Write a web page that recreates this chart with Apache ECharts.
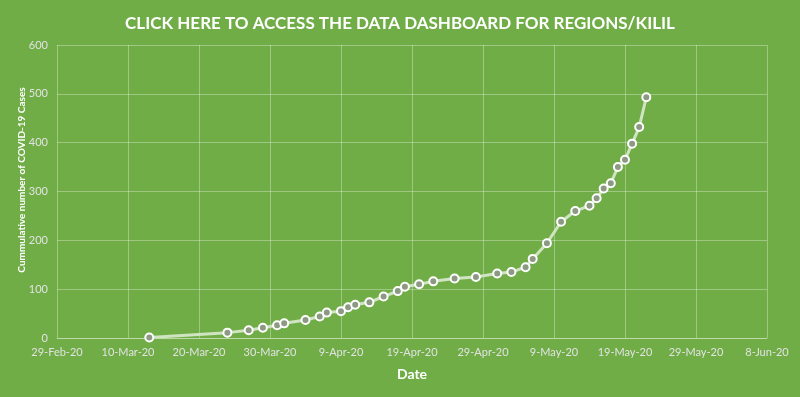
<!DOCTYPE html>
<html>
<head>
<meta charset="utf-8">
<script src="https://cdn.jsdelivr.net/npm/echarts@6/dist/echarts.min.js"></script>
<style>
html,body{margin:0;padding:0;background:#70AD47;}
#chart{width:800px;height:397px;}
</style>
</head>
<body>
<div id="chart"></div>
<script>
// Data
var dates = ['2020-03-13','2020-03-24','2020-03-27','2020-03-29','2020-03-31','2020-04-01','2020-04-04','2020-04-06','2020-04-07','2020-04-09','2020-04-10','2020-04-11','2020-04-13','2020-04-15','2020-04-17','2020-04-18','2020-04-20','2020-04-22','2020-04-25','2020-04-28','2020-05-01','2020-05-03','2020-05-05','2020-05-06','2020-05-08','2020-05-10','2020-05-12','2020-05-14','2020-05-15','2020-05-16','2020-05-17','2020-05-18','2020-05-19','2020-05-20','2020-05-21','2020-05-22'];
var cases = [1,11,16,21,26,30,37,44,52,55,63,68,73,85,96,105,110,116,122,125,132,135,145,162,194,238,260,271,286,306,317,350,365,398,432,493];
var xStart = '2020-02-29';
var xEnd = '2020-06-08';
var xTickDays = 10;
var yTicks = [0,100,200,300,400,500,600];
var months = ['Jan','Feb','Mar','Apr','May','Jun','Jul','Aug','Sep','Oct','Nov','Dec'];

var DAY = 86400000;
function toMs(s){ var p = s.split('-'); return Date.UTC(+p[0], +p[1]-1, +p[2]); }
var t0 = toMs(xStart);
function dayIdx(s){ return Math.round((toMs(s) - t0) / DAY); }
function fmtDay(d){
  var dt = new Date(t0 + d * DAY);
  return dt.getUTCDate() + '-' + months[dt.getUTCMonth()] + '-' + String(dt.getUTCFullYear()).slice(2);
}
var seriesData = dates.map(function(d, i){ return [dayIdx(d), cases[i]]; });

var chart = echarts.init(document.getElementById('chart'));
var gridColor = 'rgba(255,255,255,0.32)';
var labelColor = '#e2e2e2';
var font = 'Lato, "Open Sans", sans-serif';
chart.setOption({
  backgroundColor: '#70AD47',
  animation: false,
  title: {
    text: 'CLICK HERE TO ACCESS THE DATA DASHBOARD FOR REGIONS/KILIL',
    left: 'center',
    top: 10,
    textStyle: { color: '#ffffff', fontSize: 17, fontWeight: 'bold', fontFamily: font }
  },
  graphic: [{
    type: 'text',
    rotation: Math.PI / 2,
    x: 22, y: 180,
    style: {
      text: 'Cummulative number of COVID-19 Cases',
      fill: '#ffffff',
      font: 'bold 10px ' + font,
      textAlign: 'center',
      textVerticalAlign: 'middle'
    }
  }],
  grid: { left: 57, right: 33, top: 45, bottom: 59, containLabel: false },
  xAxis: {
    type: 'value',
    min: 0,
    max: dayIdx(xEnd),
    interval: xTickDays,
    name: 'Date',
    nameLocation: 'middle',
    nameGap: 29,
    nameTextStyle: { color: '#ffffff', fontSize: 14, fontWeight: 'bold', fontFamily: font },
    axisLine: { show: true, lineStyle: { color: gridColor } },
    axisTick: { show: false },
    axisLabel: { color: labelColor, fontSize: 11, fontFamily: font, margin: 9, formatter: fmtDay },
    splitLine: { show: true, lineStyle: { color: gridColor, width: 1 } }
  },
  yAxis: {
    type: 'value',
    min: yTicks[0],
    max: yTicks[yTicks.length - 1],
    interval: yTicks[1] - yTicks[0],
    axisLine: { show: false },
    axisTick: { show: false },
    axisLabel: { color: labelColor, fontSize: 11, fontFamily: font, margin: 9 },
    splitLine: { show: true, lineStyle: { color: gridColor, width: 1 } }
  },
  series: [{
    type: 'line',
    data: seriesData,
    symbol: 'circle',
    symbolSize: 8,
    lineStyle: { color: '#cfe4c0', width: 3 },
    itemStyle: { color: '#8c9a84', borderColor: '#ffffff', borderWidth: 2 }
  }]
});
</script>
</body>
</html>
